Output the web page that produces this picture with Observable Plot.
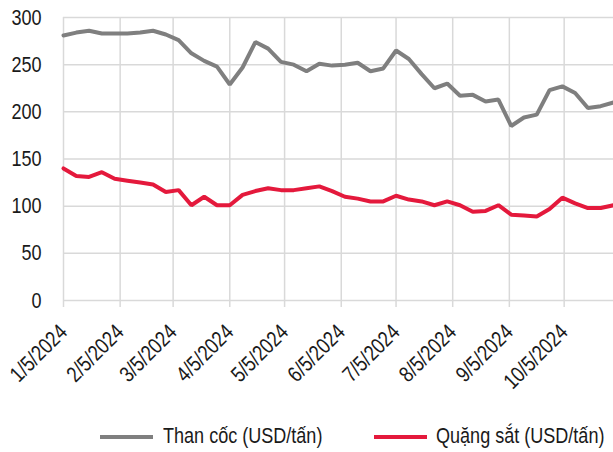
<!DOCTYPE html>
<html>
<head>
<meta charset="utf-8">
<script src="https://cdn.jsdelivr.net/npm/d3@7"></script>
<script src="https://cdn.jsdelivr.net/npm/@observablehq/plot@0.6"></script>
<style>
  html, body { margin: 0; padding: 0; background: #fff; }
  body { width: 613px; height: 452px; overflow: hidden; font-family: "Liberation Sans", Arial, sans-serif; }
  #legend { position: relative; height: 38px; font-size: 22px; color: #1a1a1a; }
  .sw { position: absolute; height: 4px; top: 21px; }
  .lt { position: absolute; top: 9px; white-space: nowrap; transform: scaleX(0.82); transform-origin: 0 50%; line-height: 26px; }
</style>
</head>
<body>
<div id="chart"></div>
<div id="legend"></div>
<script>
const dates = [
  "2024-01-05","2024-01-12","2024-01-19","2024-01-26",
  "2024-02-02","2024-02-09","2024-02-16","2024-02-23",
  "2024-03-01","2024-03-08","2024-03-15","2024-03-22","2024-03-29",
  "2024-04-05","2024-04-12","2024-04-19","2024-04-26",
  "2024-05-03","2024-05-10","2024-05-17","2024-05-24","2024-05-31",
  "2024-06-07","2024-06-14","2024-06-21","2024-06-28",
  "2024-07-05","2024-07-12","2024-07-19","2024-07-26",
  "2024-08-02","2024-08-09","2024-08-16","2024-08-23","2024-08-30",
  "2024-09-06","2024-09-13","2024-09-20","2024-09-27",
  "2024-10-04","2024-10-11","2024-10-18","2024-10-25",
  "2024-11-01"
];
const coking = [281,284,286,283,283,283,284,286,282,276,262,254,248,229,247,274,267,253,250,243,251,249,250,252,243,246,265,256,240,225,230,217,218,211,213,185,194,197,223,227,220,204,206,210];
const ironOre = [140,132,131,136,129,127,125,123,115,117,101,110,101,101,112,116,119,117,117,119,121,116,110,108,105,105,111,107,105,101,105,101,94,95,101,91,90,89,97,109,103,98,98,101];
const seriesNames = ["Than cốc (USD/tấn)", "Quặng sắt (USD/tấn)"];
const seriesColors = ["#7f7f7f", "#e4193c"];
const xTicks = ["2024-01-05","2024-02-05","2024-03-05","2024-04-05","2024-05-05","2024-06-05","2024-07-05","2024-08-05","2024-09-05","2024-10-05"];
const yTicks = [0, 50, 100, 150, 200, 250, 300];

const parse = d3.utcParse("%Y-%m-%d");
const rows = [];
dates.forEach((d, i) => {
  rows.push({date: parse(d), value: coking[i], series: seriesNames[0]});
  rows.push({date: parse(d), value: ironOre[i], series: seriesNames[1]});
});
const fmt = d => `${d.getUTCMonth() + 1}/${d.getUTCDate()}/${d.getUTCFullYear()}`;

const chart = Plot.plot({
  width: 613,
  height: 414,
  marginLeft: 63,
  marginRight: 0,
  marginTop: 17,
  marginBottom: 114,
  style: {fontFamily: `"Liberation Sans", Arial, sans-serif`, fontSize: "22px", color: "#1a1a1a", background: "#fff", overflow: "visible"},
  x: {type: "utc", domain: [parse(dates[0]), parse(dates[dates.length - 1])]},
  y: {domain: [0, 300]},
  color: {domain: seriesNames, range: seriesColors},
  marks: [
    Plot.gridY(yTicks, {stroke: "#d9d9d9", strokeOpacity: 1, strokeWidth: 1.5}),
    Plot.axisY(yTicks, {tickSize: 0, tickPadding: 22, fontSize: 22, label: null}),
    Plot.tickX(xTicks.map(parse), {x: d => d, y1: 0, y2: 0, stroke: "#d9d9d9", strokeWidth: 1.5, insetBottom: -7}),
    Plot.axisX(xTicks.map(parse), {tickSize: 0, tickPadding: 28, tickRotate: -45, tickFormat: fmt, fontSize: 22, label: null}),
    Plot.lineY(rows, {x: "date", y: "value", stroke: "series", strokeWidth: 4, strokeLinejoin: "miter", curve: "linear"})
  ]
});
document.getElementById("chart").appendChild(chart);

// condense axis text to mimic a narrow typeface
chart.querySelectorAll("text").forEach(t => {
  const len = t.getComputedTextLength();
  if (len > 0) {
    t.setAttribute("textLength", (len * 0.82).toFixed(2));
    t.setAttribute("lengthAdjust", "spacingAndGlyphs");
  }
});

const legend = document.getElementById("legend");
const swX = [100, 374];
const txtX = [163, 436];
seriesNames.forEach((n, i) => {
  const sw = document.createElement("span");
  sw.className = "sw";
  sw.style.left = swX[i] + "px";
  sw.style.width = "53px";
  sw.style.background = seriesColors[i];
  const t = document.createElement("span");
  t.className = "lt";
  t.style.left = txtX[i] + "px";
  t.textContent = n;
  legend.appendChild(sw);
  legend.appendChild(t);
});
</script>
</body>
</html>
